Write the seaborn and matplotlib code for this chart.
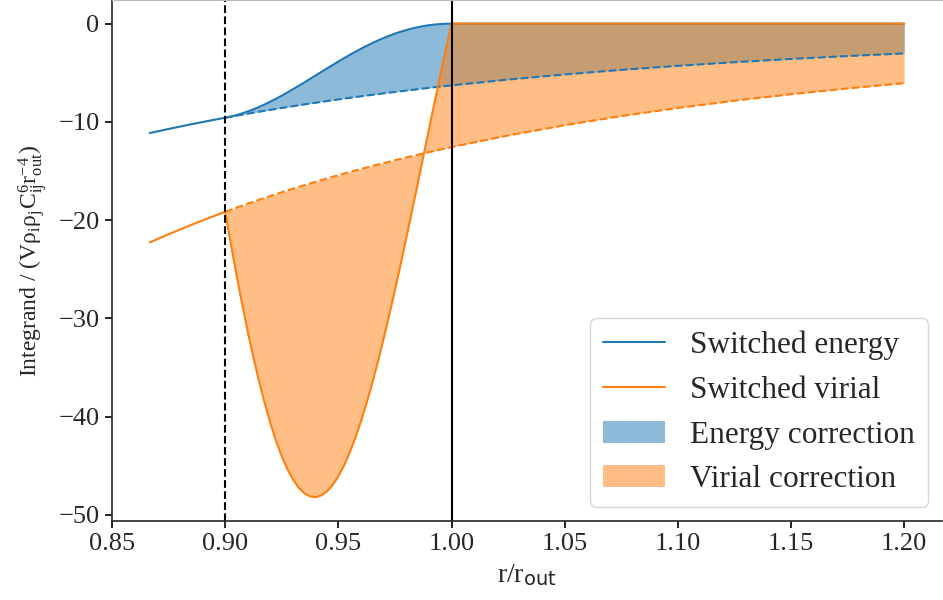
import matplotlib
matplotlib.use("Agg")
import matplotlib.pyplot as plt
import seaborn as sns
import numpy as np

# ---- data ----
# radial positions (r / r_out)
r_pre = [0.8667, 0.875, 0.8833, 0.8917]
r_switch = [0.9000, 0.9025, 0.9050, 0.9075, 0.9100, 0.9125, 0.9150, 0.9175, 0.9200, 0.9225,
            0.9250, 0.9275, 0.9300, 0.9325, 0.9350, 0.9375, 0.9400, 0.9425, 0.9450, 0.9475,
            0.9500, 0.9525, 0.9550, 0.9575, 0.9600, 0.9625, 0.9650, 0.9675, 0.9700, 0.9725,
            0.9750, 0.9775, 0.9800, 0.9825, 0.9850, 0.9875, 0.9900, 0.9925, 0.9950, 0.9975, 1.0000]
r_post = [1.025, 1.050, 1.075, 1.100, 1.125, 1.150, 1.175, 1.200]

# unswitched (bare) energy integrand
energy_pre = [-11.135, -10.719, -10.322, -9.938]
energy_switch_region = [-9.577, -9.471, -9.367, -9.264, -9.163, -9.063, -8.964, -8.867, -8.771, -8.676,
                        -8.583, -8.490, -8.399, -8.310, -8.221, -8.134, -8.048, -7.963, -7.879, -7.796,
                        -7.714, -7.633, -7.554, -7.475, -7.398, -7.321, -7.246, -7.171, -7.097, -7.025,
                        -6.953, -6.882, -6.812, -6.743, -6.675, -6.607, -6.541, -6.475, -6.410, -6.346, -6.283]
energy_post = [-5.692, -5.169, -4.705, -4.292, -3.923, -3.592, -3.296, -3.030]

# unswitched (bare) virial integrand
virial_pre = [-22.271, -21.438, -20.643, -19.876]
virial_switch_region = [-19.153, -18.942, -18.733, -18.528, -18.325, -18.125, -17.928, -17.733, -17.541, -17.352,
                        -17.165, -16.981, -16.799, -16.619, -16.442, -16.268, -16.095, -15.925, -15.757, -15.592,
                        -15.428, -15.267, -15.108, -14.950, -14.795, -14.642, -14.491, -14.342, -14.195, -14.049,
                        -13.906, -13.764, -13.624, -13.486, -13.349, -13.215, -13.082, -12.951, -12.821, -12.693, -12.566]
virial_post = [-11.385, -10.338, -9.410, -8.583, -7.845, -7.185, -6.593, -6.060]

# switched integrands inside the switching region
energy_switched = [-9.577, -9.456, -9.309, -9.136, -8.938, -8.718, -8.475, -8.213, -7.933, -7.637,
                   -7.326, -7.002, -6.668, -6.326, -5.977, -5.623, -5.267, -4.911, -4.556, -4.204,
                   -3.857, -3.517, -3.186, -2.865, -2.556, -2.260, -1.978, -1.712, -1.463, -1.231,
                   -1.018, -0.824, -0.651, -0.497, -0.364, -0.251, -0.160, -0.089, -0.040, -0.010, 0.0]
virial_switched = [-19.153, -22.424, -25.561, -28.548, -31.368, -34.005, -36.448, -38.683, -40.700, -42.489,
                   -44.044, -45.358, -46.426, -47.246, -47.815, -48.134, -48.205, -48.031, -47.615, -46.964,
                   -46.086, -44.988, -43.679, -42.172, -40.477, -38.606, -36.576, -34.398, -32.088, -29.663,
                   -27.135, -24.525, -21.847, -19.119, -16.356, -13.577, -10.798, -8.035, -5.303, -2.621, 0.0]
switched_post = [0.0] * 8

switch_on = 0.9
cutoff = 1.0

# ---- assemble series ----
r_all = np.array(r_pre + r_switch + r_post)
r_tail = np.array(r_switch + r_post)
E_bare = np.array(energy_switch_region + energy_post)
V_bare = np.array(virial_switch_region + virial_post)
E_sw = np.array(energy_pre + energy_switched + switched_post)
V_sw = np.array(virial_pre + virial_switched + switched_post)
E_sw_tail = np.array(energy_switched + switched_post)
V_sw_tail = np.array(virial_switched + switched_post)

sns.set_style("ticks")
plt.rcParams['font.family'] = ['Liberation Serif', 'DejaVu Serif']
plt.rcParams['mathtext.fontset'] = 'custom'
plt.rcParams['mathtext.rm'] = 'Liberation Serif'
plt.rcParams['mathtext.it'] = 'Liberation Serif:italic'
plt.rcParams['mathtext.sf'] = 'DejaVu Sans'

c0 = '#1f77b4'
c1 = '#ff7f0e'

fig = plt.figure(figsize=(9.43, 6.0), dpi=100)
ax = fig.add_axes([0.1188, 0.132, 0.88, 0.868])

ax.fill_between(r_tail, E_sw_tail, E_bare, color=c0, alpha=0.5, linewidth=0,
                label='Energy correction')
ax.fill_between(r_tail, V_sw_tail, V_bare, color=c1, alpha=0.5, linewidth=0,
                label='Virial correction')

sns.lineplot(x=r_tail, y=E_bare, ax=ax, color=c0, linestyle='--', linewidth=1.5, sort=False)
sns.lineplot(x=r_tail, y=V_bare, ax=ax, color=c1, linestyle='--', linewidth=1.5, sort=False)
sns.lineplot(x=r_all, y=E_sw, ax=ax, color=c0, linewidth=1.5, sort=False, label='Switched energy')
sns.lineplot(x=r_all, y=V_sw, ax=ax, color=c1, linewidth=1.5, sort=False, label='Switched virial')

ax.axvline(switch_on, color='black', linestyle='--', linewidth=1.5)
ax.axvline(cutoff, color='black', linewidth=1.5)

ax.set_xticks([0.85, 0.90, 0.95, 1.00, 1.05, 1.10, 1.15, 1.20])
ax.set_xticklabels(['0.85', '0.90', '0.95', '1.00', '1.05', '1.10', '1.15', '1.20'])
ax.set_yticks([0, -10, -20, -30, -40, -50])
ax.set_yticklabels(['0', '\u221210', '\u221220', '\u221230', '\u221240', '\u221250'])
ax.tick_params(labelsize=19, length=5, width=1.2, color='black', pad=4)

ax.set_xlabel(r'r/r$_\mathsf{out}$', fontsize=20, labelpad=5)
ax.set_ylabel(r'Integrand / (V$\mathrm{\rho_i\rho_j C^6_{ij} r^{-4}_{out}}$)', fontsize=17, labelpad=6)

ax.spines['right'].set_visible(False)
ax.spines['top'].set_color('#bbbbbb')
ax.spines['left'].set_linewidth(1.2)
ax.spines['bottom'].set_linewidth(1.2)

handles, labels = ax.get_legend_handles_labels()
order = ['Switched energy', 'Switched virial', 'Energy correction', 'Virial correction']
hmap = dict(zip(labels, handles))
ax.legend([hmap[k] for k in order], order, loc='lower right', fontsize=22.5,
          frameon=True, fancybox=True, framealpha=0.8, edgecolor='#cccccc',
          handlelength=2.0, borderaxespad=0.45, labelspacing=0.5)

fig.savefig('out.png', dpi=100)
